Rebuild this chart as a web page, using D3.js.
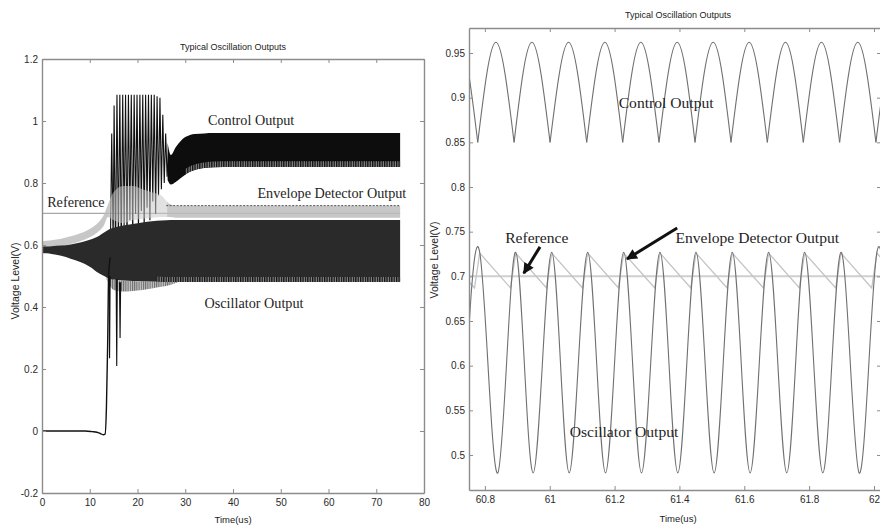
<!DOCTYPE html>
<html><head><meta charset="utf-8">
<script src="https://cdn.jsdelivr.net/npm/d3@7"></script>
<style>body{margin:0;background:#fff} svg{display:block}</style>
</head><body>
<svg id="c" width="880" height="529"></svg>
<script>
// ================= LEFT PANEL DATA (time in us, volts) =================
const leftXTicks = [0,10,20,30,40,50,60,70,80];
const leftXLabels = ["0","10","20","30","40","50","60","70","80"];
const leftYTicks = [-0.2,0,0.2,0.4,0.6,0.8,1,1.2];
const leftYLabels = ["-0.2","0","0.2","0.4","0.6","0.8","1","1.2"];

// control output before start-up (flat at 0, then steep rise)
const ctrlPreT = [0, 0.4, 6, 9, 10.5, 11.5, 12.2, 12.8, 13.2, 13.5, 13.75, 13.95, 14.3];
const ctrlPreV = [0, 0, 0, 0, -0.002, -0.004, -0.008, -0.012, -0.01, 0.08, 0.28, 0.5, 0.56];

// control output burst (individual swings)
const burstT = [14.3,14.6,14.9,15.1,15.4,15.7,16.0,16.3,16.6,16.9,17.2,17.5,17.8,18.1,18.4,18.7,19.0,19.3,19.6,19.9,20.2,20.5,20.8,21.1,21.4,21.7,22.0,22.3,22.6,22.9,23.2,23.5,23.8,24.1,24.4,24.7,25.0,25.3,25.6,25.9,26.2,26.5];
const burstV = [0.56,0.96,0.60,1.05,0.57,1.085,0.62,1.085,0.58,1.085,0.66,1.085,0.60,1.085,0.68,1.085,0.63,1.085,0.70,1.085,0.65,1.085,0.71,1.085,0.66,1.085,0.72,1.085,0.68,1.085,0.74,1.085,0.70,1.08,0.76,1.075,0.78,1.02,0.80,0.96,0.82,0.90];

// control output steady band (envelope of the fast oscillation)
const ctrlT  = [26.3, 27, 28, 29, 30, 31, 32, 34, 36, 40, 50, 60, 75];
const ctrlUp = [0.93, 0.89, 0.915, 0.935, 0.948, 0.955, 0.958, 0.96, 0.961, 0.961, 0.961, 0.961, 0.961];
const ctrlLo = [0.81, 0.795, 0.803, 0.815, 0.827, 0.836, 0.842, 0.848, 0.851, 0.852, 0.852, 0.852, 0.852];

// envelope detector output band
const envT  = [0, 2, 4, 6, 8, 10, 11, 12, 13, 13.8, 15, 17, 19, 21, 23, 25, 26.5, 28, 75];
const envUp = [0.612,0.615,0.62,0.628,0.638,0.652,0.662,0.676,0.698,0.73,0.77,0.79,0.79,0.78,0.77,0.76,0.735,0.727,0.727];
const envLo = [0.59,0.592,0.596,0.603,0.612,0.625,0.634,0.646,0.664,0.69,0.68,0.67,0.68,0.685,0.688,0.69,0.69,0.688,0.688];
const envBurstRange = [14.2, 26.2];
const envDashT = [26, 75];
const envDashV = [0.727, 0.727];

// reference level
const refLeftT = [0, 75];
const refLeftV = [0.702, 0.702];

// oscillator output band
const oscT  = [0, 1, 2, 4, 6, 8, 10, 12, 13, 14, 16, 18, 20, 22, 24, 26, 28, 75];
const oscUp = [0.595,0.595,0.596,0.598,0.602,0.608,0.617,0.63,0.64,0.65,0.66,0.665,0.67,0.675,0.678,0.68,0.681,0.681];
const oscLo = [0.574,0.573,0.571,0.565,0.556,0.545,0.53,0.508,0.5,0.492,0.487,0.485,0.484,0.483,0.482,0.481,0.481,0.481];
const oscFringeT  = [13.5, 15, 17, 19, 21, 23, 25, 27, 28.5];
const oscFringeLo = [0.49, 0.455, 0.45, 0.452, 0.455, 0.46, 0.465, 0.472, 0.481];
const oscFringeUp = [0.5, 0.489, 0.485, 0.484, 0.483, 0.483, 0.482, 0.481, 0.481];
const oscStartT = [0, 0];
const oscStartV = [0, 0.595];
// downward spikes of the oscillator during start-up
const oscSpikeT  = [14.15, 15.65, 16.35];
const oscSpikeLo = [0.235, 0.21, 0.30];
const oscSpikeHi = [0.50, 0.49, 0.48];

// ================= RIGHT PANEL DATA =================
const rightXTicks = [60.8,61,61.2,61.4,61.6,61.8,62];
const rightXLabels = ["60.8","61","61.2","61.4","61.6","61.8","62"];
const rightYTicks = [0.5,0.55,0.6,0.65,0.7,0.75,0.8,0.85,0.9,0.95];
const rightYLabels = ["0.5","0.55","0.6","0.65","0.7","0.75","0.8","0.85","0.9","0.95"];

// control output: arches between cusps
const ctrlCuspT = [60.666,60.778,60.890,61.001,61.114,61.225,61.337,61.448,61.559,61.671,61.782,61.894,62.006,62.117];
const ctrlPeakT = [60.722,60.834,60.945,61.058,61.170,61.281,61.393,61.504,61.615,61.727,61.838,61.950,62.062];
const ctrlCuspV = 0.85;
const ctrlPeakV = 0.962;

// oscillator output extrema
const oscRT = [60.728,60.784,60.840,60.895,60.949,61.006,61.060,61.117,61.172,61.228,61.283,61.340,61.395,61.451,61.507,61.563,61.618,61.675,61.731,61.786,61.842,61.898,61.954,62.009,62.065];
const oscRV = [0.48,0.727,0.48,0.727,0.48,0.727,0.48,0.727,0.48,0.727,0.48,0.727,0.48,0.727,0.48,0.727,0.48,0.727,0.48,0.727,0.48,0.727,0.48,0.727,0.48];

// envelope detector sawtooth
const envRT = [60.673,60.768,60.784,60.879,60.895,60.990,61.006,61.101,61.117,61.212,61.228,61.324,61.340,61.435,61.451,61.547,61.563,61.659,61.675,61.770,61.786,61.882,61.898,61.993,62.009,62.10];
const envRV = [0.726,0.687,0.726,0.687,0.726,0.687,0.726,0.687,0.726,0.687,0.726,0.687,0.726,0.687,0.726,0.687,0.726,0.687,0.726,0.687,0.726,0.687,0.726,0.687,0.726,0.687];
const refRightT = [60.7, 62.1];
const refRightV = [0.70, 0.70];

// annotations (data coordinates)
const leftNotes = [
  {text:"Control Output", t:43.8, v:1.003},
  {text:"Envelope Detector Output", t:60.7, v:0.768},
  {text:"Reference", t:7.1, v:0.739},
  {text:"Oscillator Output", t:44.4, v:0.413}
];
const rightNotes = [
  {text:"Control Output", t:61.359, v:0.895},
  {text:"Reference", t:60.960, v:0.743},
  {text:"Envelope Detector Output", t:61.640, v:0.743},
  {text:"Oscillator Output", t:61.229, v:0.526}
];
const rightArrows = [
  {t0:60.970, v0:0.733, t1:60.920, v1:0.7035},
  {t0:61.393, v0:0.754, t1:61.238, v1:0.7194}
];

// ================= DRAWING =================
const svg = d3.select("#c");
const defs = svg.append("defs");

const xL = d3.scaleLinear([0,80],[42,424]);
const yL = d3.scaleLinear([-0.2,1.2],[493,59]);
const xR = d3.scaleLinear([60.751,62.0216],[469,881]);
const yR = d3.scaleLinear([0.4608,0.978],[490,28]);

defs.append("clipPath").attr("id","clipL").append("rect")
  .attr("x",42).attr("y",59).attr("width",382).attr("height",434);
defs.append("clipPath").attr("id","clipR").append("rect")
  .attr("x",469).attr("y",28).attr("width",412).attr("height",462);
// clip regions for the envelope band: outside / inside the start-up burst
const cOut = defs.append("clipPath").attr("id","clipEnvOut");
cOut.append("rect").attr("x",42).attr("y",59).attr("width",xL(envBurstRange[0])-42).attr("height",434);
cOut.append("rect").attr("x",xL(envBurstRange[1])).attr("y",59).attr("width",424-xL(envBurstRange[1])).attr("height",434);
defs.append("clipPath").attr("id","clipEnvIn").append("rect")
  .attr("x",xL(envBurstRange[0])).attr("y",59)
  .attr("width",xL(envBurstRange[1])-xL(envBurstRange[0])).attr("height",434);

const pat = defs.append("pattern").attr("id","stripe").attr("patternUnits","userSpaceOnUse")
  .attr("width",2.4).attr("height",8);
pat.append("rect").attr("width",2.4).attr("height",8).attr("fill","#8a8a8a");
pat.append("rect").attr("width",1.3).attr("height",8).attr("fill","#111");

const pat2 = defs.append("pattern").attr("id","stripe2").attr("patternUnits","userSpaceOnUse")
  .attr("width",2.2).attr("height",8);
pat2.append("rect").attr("width",2.2).attr("height",8).attr("fill","#b5b5b5");
pat2.append("rect").attr("width",1).attr("height",8).attr("fill","#444");

defs.append("marker").attr("id","ah").attr("markerUnits","userSpaceOnUse")
  .attr("viewBox","0 0 10 10").attr("refX",9).attr("refY",5)
  .attr("markerWidth",13).attr("markerHeight",11).attr("orient","auto")
  .append("path").attr("d","M0,0 L10,5 L0,10 z").attr("fill","#111");

function zip(a,b){ return a.map((d,i)=>[d,b[i]]); }
function zip3(a,b,c){ return a.map((d,i)=>[d,b[i],c[i]]); }

// ---------- LEFT PANEL ----------
const gL = svg.append("g").attr("clip-path","url(#clipL)");
const lineL = d3.line().x(d=>xL(d[0])).y(d=>yL(d[1]));
const areaL = d3.area().x(d=>xL(d[0])).y0(d=>yL(d[1])).y1(d=>yL(d[2])).curve(d3.curveMonotoneX);

// reference
gL.append("path").attr("d",lineL(zip(refLeftT,refLeftV)))
  .attr("fill","none").attr("stroke","#a8a8a8").attr("stroke-width",1.2);

// control burst zigzag
gL.append("path").attr("d",lineL(zip(burstT,burstV)))
  .attr("fill","none").attr("stroke","#111").attr("stroke-width",1.1);

// envelope band
const envPath = areaL(zip3(envT,envLo,envUp));
gL.append("g").attr("clip-path","url(#clipEnvOut)").append("path").attr("d",envPath)
  .attr("fill","#bdbdbd").attr("opacity",0.85);
gL.append("g").attr("clip-path","url(#clipEnvIn)").append("path").attr("d",envPath)
  .attr("fill","#c8c8c8").attr("opacity",0.55);
gL.append("path").attr("d",lineL(zip(envDashT,envDashV)))
  .attr("fill","none").attr("stroke","#555").attr("stroke-width",1).attr("stroke-dasharray","2,1.5");

// oscillator band
gL.append("path").attr("d",areaL(zip3(oscFringeT,oscFringeLo,oscFringeUp)))
  .attr("fill","url(#stripe2)").attr("opacity",0.8);
gL.append("path").attr("d",areaL(zip3(oscT,oscLo,oscUp)))
  .attr("fill","#2a2a2a");
gL.append("path").attr("d",d3.area().x(d=>xL(d[0])).y0(d=>yL(d[1])).y1(d=>yL(d[1]+0.016))
    (zip(oscT.slice(14),oscLo.slice(14))))
  .attr("fill","url(#stripe)");
gL.append("path").attr("d",lineL(zip(oscStartT,oscStartV)))
  .attr("fill","none").attr("stroke","#111").attr("stroke-width",1.5);
oscSpikeT.forEach((t,i)=>{
  gL.append("path").attr("d",lineL([[t-0.12,oscSpikeHi[i]],[t,oscSpikeLo[i]],[t+0.12,oscSpikeHi[i]]]))
    .attr("fill","none").attr("stroke","#111").attr("stroke-width",1.1);
});

// control pre start-up and band
gL.append("path").attr("d",d3.line().x(d=>xL(d[0])).y(d=>yL(d[1])).curve(d3.curveMonotoneX)(zip(ctrlPreT,ctrlPreV)))
  .attr("fill","none").attr("stroke","#111").attr("stroke-width",1.4);
gL.append("path").attr("d",areaL(zip3(ctrlT,ctrlLo,ctrlUp)))
  .attr("fill","#0d0d0d");
gL.append("path").attr("d",d3.area().x(d=>xL(d[0])).y0(d=>yL(d[1])).y1(d=>yL(d[1]+0.018))
    .curve(d3.curveMonotoneX)(zip(ctrlT.slice(4),ctrlLo.slice(4))))
  .attr("fill","url(#stripe)");

// ---------- RIGHT PANEL ----------
const gR = svg.append("g").attr("clip-path","url(#clipR)");
const lineR = d3.line().x(d=>xR(d[0])).y(d=>yR(d[1]));
const lineRN = d3.line().x(d=>xR(d[0])).y(d=>yR(d[1])).curve(d3.curveNatural);

gR.append("path").attr("d",lineR(zip(refRightT,refRightV)))
  .attr("fill","none").attr("stroke","#cfcfcf").attr("stroke-width",2);
gR.append("path").attr("d",lineR(zip(envRT,envRV)))
  .attr("fill","none").attr("stroke","#c4c4c4").attr("stroke-width",1.3);
gR.append("path").attr("d",lineRN(zip(oscRT,oscRV)))
  .attr("fill","none").attr("stroke","#707070").attr("stroke-width",1.1);
ctrlPeakT.forEach((p,i)=>{
  const arch = [[ctrlCuspT[i],ctrlCuspV],[p,ctrlPeakV],[ctrlCuspT[i+1],ctrlCuspV]];
  gR.append("path").attr("d",lineRN(arch))
    .attr("fill","none").attr("stroke","#707070").attr("stroke-width",1.1);
});

// ---------- AXES ----------
function frame(x, y, xT, xLab, yT, yLab, left, right, top, bottom){
  const style = g => {
    g.selectAll(".domain").attr("stroke","#8c8c8c").attr("stroke-width",1.4);
    g.selectAll(".tick line").attr("stroke","#8c8c8c").attr("stroke-width",1);
    g.selectAll(".tick text").attr("fill","#2a2a2a")
      .style("font-family","Arial, 'Liberation Sans', sans-serif").style("font-size","10px");
  };
  svg.append("g").attr("transform",`translate(0,${bottom})`)
    .call(d3.axisBottom(x).tickValues(xT).tickFormat((d,i)=>xLab[i]).tickSize(-4).tickSizeOuter(0).tickPadding(6))
    .call(style);
  svg.append("g").attr("transform",`translate(0,${top})`)
    .call(d3.axisTop(x).tickValues(xT).tickFormat("").tickSize(-4).tickSizeOuter(0))
    .call(style);
  svg.append("g").attr("transform",`translate(${left},0)`)
    .call(d3.axisLeft(y).tickValues(yT).tickFormat((d,i)=>yLab[i]).tickSize(-4).tickSizeOuter(0).tickPadding(4))
    .call(style);
  svg.append("g").attr("transform",`translate(${right},0)`)
    .call(d3.axisRight(y).tickValues(yT).tickFormat("").tickSize(-4).tickSizeOuter(0))
    .call(style);
}
frame(xL, yL, leftXTicks, leftXLabels, leftYTicks, leftYLabels, 42, 424, 59, 493);
frame(xR, yR, rightXTicks, rightXLabels, rightYTicks, rightYLabels, 469, 881, 28, 490);

// ---------- TEXT ----------
const sans = "Arial, 'Liberation Sans', sans-serif";
function title(x, y, s){
  svg.append("text").attr("x",x).attr("y",y).attr("text-anchor","middle")
    .attr("dominant-baseline","central").style("font-family",sans).style("font-size","9px")
    .attr("fill","#222").text(s);
}
title(233, 47, "Typical Oscillation Outputs");
title(678, 15, "Typical Oscillation Outputs");
function xlabel(x, y){
  svg.append("text").attr("x",x).attr("y",y).attr("text-anchor","middle")
    .attr("dominant-baseline","central").style("font-family",sans).style("font-size","9.5px")
    .attr("fill","#222").text("Time(us)");
}
xlabel(233, 519);
xlabel(678, 518);
function ylabel(x, y){
  svg.append("text").attr("transform",`translate(${x},${y}) rotate(-90)`).attr("text-anchor","middle")
    .attr("dominant-baseline","central").style("font-family",sans).style("font-size","10.5px")
    .attr("fill","#222").text("Voltage Level(V)");
}
ylabel(15, 281);
ylabel(434, 260);

const serif = "'Liberation Serif', 'Times New Roman', serif";
leftNotes.forEach(n=>{
  svg.append("text").attr("x",xL(n.t)).attr("y",yL(n.v)).attr("text-anchor","middle")
    .attr("dominant-baseline","central").style("font-family",serif).style("font-size","14.2px")
    .attr("fill","#1e1e1e").text(n.text);
});
rightNotes.forEach(n=>{
  svg.append("text").attr("x",xR(n.t)).attr("y",yR(n.v)).attr("text-anchor","middle")
    .attr("dominant-baseline","central").style("font-family",serif).style("font-size","15.6px")
    .attr("fill","#1e1e1e").text(n.text);
});
rightArrows.forEach(a=>{
  svg.append("line").attr("x1",xR(a.t0)).attr("y1",yR(a.v0)).attr("x2",xR(a.t1)).attr("y2",yR(a.v1))
    .attr("stroke","#111").attr("stroke-width",3).attr("marker-end","url(#ah)");
});
</script>
</body></html>
